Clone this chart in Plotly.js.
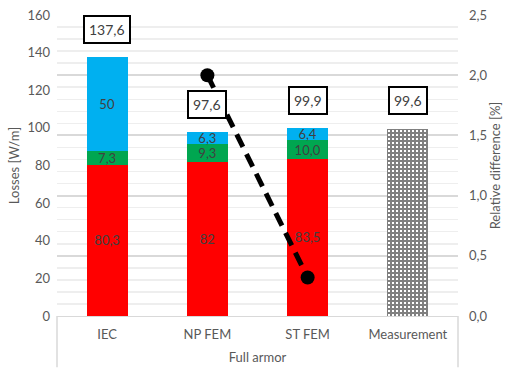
<!DOCTYPE html>
<html>
<head>
<meta charset="utf-8">
<script src="https://cdn.plot.ly/plotly-3.0.1.min.js"></script>
<style>html,body{margin:0;padding:0;background:#fff;}#chart{width:510px;height:372px;}</style>
</head>
<body>
<div id="chart"></div>
<script>
var categories = ['IEC', 'NP FEM', 'ST FEM', 'Measurement'];
var calcCats = ['IEC', 'NP FEM', 'ST FEM'];
var redValues = [80.3, 82, 83.5];
var redLabels = ['80,3', '82', '83,5'];
var greenValues = [7.3, 9.3, 10.0];
var greenLabels = ['7,3', '9,3', '10,0'];
var blueValues = [50, 6.3, 6.4];
var blueLabels = ['50', '6,3', '6,4'];
var measurementValue = [99.6];
var totals = [137.6, 97.6, 99.9, 99.6];
var totalLabels = ['137,6', '97,6', '99,9', '99,6'];
var diffCats = ['NP FEM', 'ST FEM'];
var diffValues = [2.0, 0.32];

var labelFont = {family: 'Lato, sans-serif', size: 14, color: '#404040'};
var innerFont = {family: 'Lato, sans-serif', size: 13, color: '#404040'};
function seg(y, text, color) {
  return {
    type: 'bar', x: calcCats, y: y, text: text,
    textposition: 'inside', insidetextanchor: 'middle', constraintext: 'none', textangle: 0,
    textfont: innerFont, marker: {color: color, line: {width: 0}},
    hoverinfo: 'skip', showlegend: false
  };
}
var traces = [
  seg(redValues, redLabels, '#ff0000'),
  seg(greenValues, greenLabels, '#00a650'),
  seg(blueValues, blueLabels, '#00b0f0'),
  {
    type: 'bar', x: ['Measurement'], y: measurementValue,
    marker: {color: '#ffffff', line: {width: 0},
      pattern: {shape: '+', fgcolor: '#808080', bgcolor: '#ffffff', size: 4, solidity: 0.75}},
    hoverinfo: 'skip', showlegend: false
  },
  {
    type: 'scatter', x: diffCats, y: diffValues, yaxis: 'y2',
    mode: 'lines+markers',
    line: {color: '#000000', width: 5, dash: '14px,8px'},
    marker: {color: '#000000', size: 14},
    hoverinfo: 'skip', showlegend: false
  }
];

var annotations = categories.map(function (c, i) {
  return {
    x: c, y: totals[i], xref: 'x', yref: 'y', yanchor: 'middle', yshift: 28,
    text: totalLabels[i], showarrow: false, font: labelFont,
    bgcolor: '#ffffff', bordercolor: '#000000', borderwidth: 2, borderpad: 4
  };
});

var axisFont = {family: 'Lato, sans-serif', size: 13, color: '#595959'};
var layout = {
  width: 510, height: 372,
  margin: {l: 57, r: 52, t: 15, b: 56},
  paper_bgcolor: '#ffffff', plot_bgcolor: '#ffffff',
  separators: ', ',
  barmode: 'stack', bargap: 0.59,
  font: axisFont,
  xaxis: {
    type: 'category', categoryarray: categories, categoryorder: 'array',
    showgrid: false, zeroline: false, showline: true, linecolor: '#d9d9d9', linewidth: 1,
    ticks: '', tickfont: axisFont, ticklabelstandoff: 6,
    title: {text: 'Full armor', font: axisFont, standoff: 12}
  },
  yaxis: {
    range: [0, 160], dtick: 20, showgrid: false, zeroline: false, showline: false,
    ticks: '', tickfont: axisFont, ticklabelstandoff: 6,
    title: {text: 'Losses [W/m]', font: axisFont, standoff: 4}
  },
  yaxis2: {
    range: [0, 2.5], dtick: 0.5, tickformat: '.1f', overlaying: 'y', side: 'right',
    showgrid: true, gridcolor: '#d9d9d9', gridwidth: 2, zeroline: false,
    minor: {dtick: 0.1, showgrid: true, gridcolor: '#eeeeee', gridwidth: 1.5},
    ticks: '', tickfont: axisFont, ticklabelstandoff: 10,
    title: {text: 'Relative difference [%]', font: axisFont, standoff: 4}
  },
  annotations: annotations,
  shapes: [
    {type: 'line', xref: 'paper', yref: 'paper', x0: 0, x1: 0, y0: 0, y1: -0.17, line: {color: '#d9d9d9', width: 1.5}},
    {type: 'line', xref: 'paper', yref: 'paper', x0: 1, x1: 1, y0: 0, y1: -0.17, line: {color: '#d9d9d9', width: 1.5}}
  ]
};
Plotly.newPlot('chart', traces, layout, {displayModeBar: false, staticPlot: true});
</script>
</body>
</html>
